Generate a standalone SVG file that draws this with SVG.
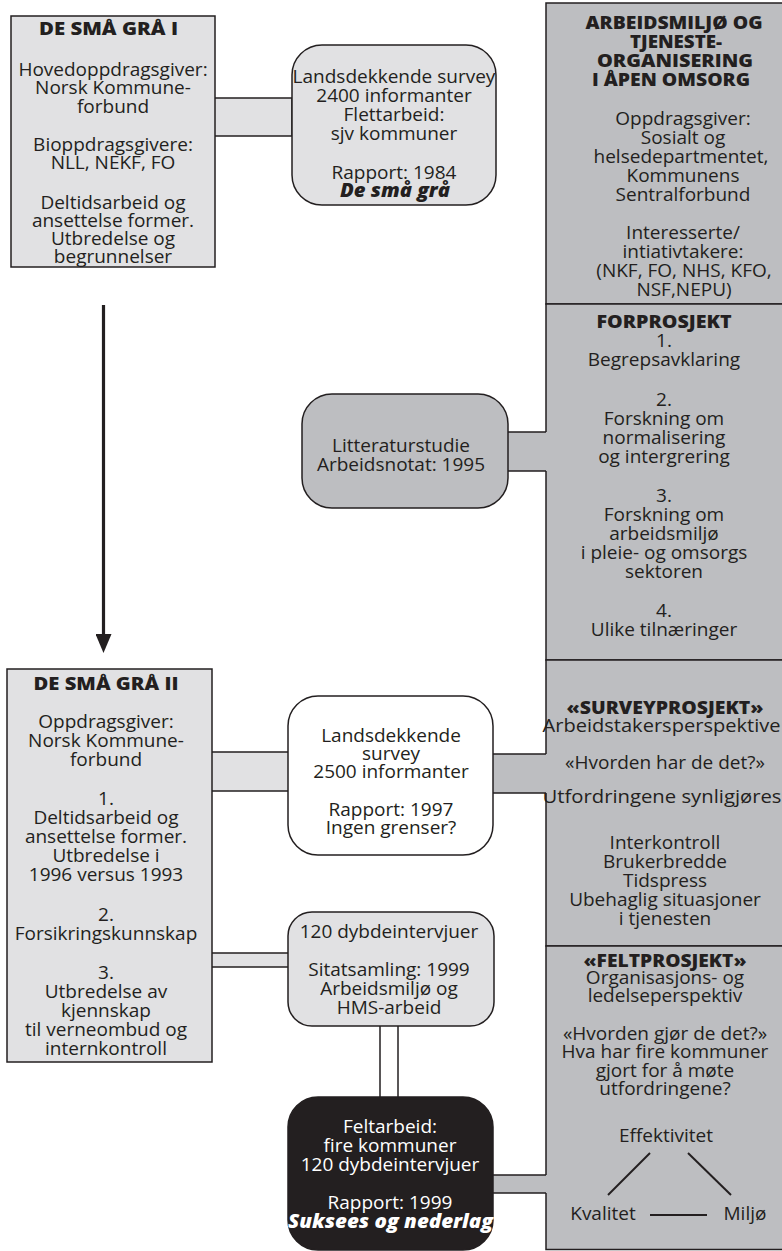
<svg xmlns="http://www.w3.org/2000/svg" width="782" height="1251" viewBox="0 0 782 1251">
  <style>
    .lt{fill:#e1e1e3;stroke:#231f20;stroke-width:1.5}
    .dk{fill:#bdbec1;stroke:#231f20;stroke-width:1.5}
    .wh{fill:#ffffff;stroke:#231f20;stroke-width:1.5}
    .bk{fill:#231f20;stroke:#231f20;stroke-width:1.5}
    .ln{fill:none;stroke:#231f20;stroke-width:1.5}
    .tri{fill:none;stroke:#231f20;stroke-width:2}
    text{font-family:"Open Sans","Liberation Sans",sans-serif;font-size:19px;fill:#231f20;text-anchor:middle}
    .h{font-weight:800;font-size:17px}
    .bi{font-weight:800;font-style:italic}
    .w{fill:#ffffff}
  </style>
  <defs>
    <!-- solid triangular head; drawn along +x so orient="auto" points it down the line -->
    <marker id="arrowhead" viewBox="0 0 19 16" refX="0" refY="8" markerWidth="19" markerHeight="16" markerUnits="userSpaceOnUse" orient="auto">
      <polygon points="0,0 19,8 0,16" fill="#231f20"/>
    </marker>
  </defs>

  <rect width="782" height="1251" fill="#ffffff"/>

  <!-- right-hand column: main project and its three sub-projects -->
  <g id="node-arbeidsmiljo">
    <rect class="dk" x="546" y="3" width="250" height="301"/>
    <text class="h" x="674" y="29" textLength="177" lengthAdjust="spacingAndGlyphs">ARBEIDSMILJØ OG</text>
    <text class="h" x="676" y="48" textLength="92" lengthAdjust="spacingAndGlyphs">TJENESTE-</text>
    <text class="h" x="675" y="67" textLength="156" lengthAdjust="spacingAndGlyphs">ORGANISERING</text>
    <text class="h" x="671" y="86" textLength="158" lengthAdjust="spacingAndGlyphs">I ÅPEN OMSORG</text>
    <text x="683" y="125">Oppdragsgiver:</text>
    <text x="683" y="144">Sosialt og</text>
    <text x="681" y="163">helsedepartmentet,</text>
    <text x="683" y="182">Kommunens</text>
    <text x="683" y="201">Sentralforbund</text>
    <text x="683" y="239">Interesserte/</text>
    <text x="683" y="258">intiativtakere:</text>
    <text x="684" y="277">(NKF, FO, NHS, KFO,</text>
    <text x="684" y="296">NSF,NEPU)</text>
  </g>

  <g id="node-forprosjekt">
    <rect class="dk" x="546" y="304" width="250" height="356"/>
    <text class="h" x="664" y="328" textLength="135" lengthAdjust="spacingAndGlyphs">FORPROSJEKT</text>
    <text x="664" y="347">1.</text>
    <text x="664" y="366">Begrepsavklaring</text>
    <text x="664" y="406">2.</text>
    <text x="664" y="425">Forskning om</text>
    <text x="664" y="444">normalisering</text>
    <text x="664" y="463">og intergrering</text>
    <text x="664" y="502">3.</text>
    <text x="664" y="521">Forskning om</text>
    <text x="664" y="540">arbeidsmiljø</text>
    <text x="664" y="559">i pleie- og omsorgs</text>
    <text x="664" y="578">sektoren</text>
    <text x="664" y="617">4.</text>
    <text x="664" y="636">Ulike tilnæringer</text>
  </g>

  <g id="node-surveyprosjekt">
    <rect class="dk" x="546" y="660" width="250" height="286"/>
    <text class="h" x="665" y="714" textLength="197" lengthAdjust="spacingAndGlyphs">«SURVEYPROSJEKT»</text>
    <text x="661.5" y="732" textLength="238" lengthAdjust="spacingAndGlyphs">Arbeidstakersperspektive</text>
    <text x="665" y="769">«Hvorden har de det?»</text>
    <text x="662" y="803" textLength="239" lengthAdjust="spacingAndGlyphs">Utfordringene synligjøres</text>
    <text x="665" y="849">Interkontroll</text>
    <text x="665" y="868">Brukerbredde</text>
    <text x="665" y="887">Tidspress</text>
    <text x="665" y="906">Ubehaglig situasjoner</text>
    <text x="665" y="925">i tjenesten</text>
  </g>

  <g id="node-feltprosjekt">
    <rect class="dk" x="546" y="946" width="250" height="303.5"/>
    <text class="h" x="665" y="967" textLength="163" lengthAdjust="spacingAndGlyphs">«FELTPROSJEKT»</text>
    <text x="665" y="984">Organisasjons- og</text>
    <text x="665" y="1002">ledelseperspektiv</text>
    <text x="665" y="1040">«Hvorden gjør de det?»</text>
    <text x="665" y="1058">Hva har fire kommuner</text>
    <text x="665" y="1077">gjort for å møte</text>
    <text x="665" y="1095">utfordringene?</text>
    <text x="666" y="1142">Effektivitet</text>
    <line class="tri" x1="650" y1="1153" x2="608" y2="1195"/>
    <line class="tri" x1="688" y1="1153" x2="731" y2="1195"/>
    <line class="tri" x1="650" y1="1215" x2="707" y2="1215"/>
    <text x="603" y="1220">Kvalitet</text>
    <text x="745" y="1220">Miljø</text>
  </g>

  <!-- connectors: flat bars between boxes, and the timeline arrow -->
  <g id="connectors">
    <rect class="lt" x="214" y="98" width="78" height="38"/>
    <rect fill="#bdbec1" x="507" y="432" width="41" height="39"/>
    <path class="ln" d="M507 432H546M507 471H546"/>
    <rect class="lt" x="211" y="752" width="78" height="39"/>
    <rect fill="#bdbec1" x="492" y="754" width="56" height="39"/>
    <path class="ln" d="M492 754H546M492 793H546"/>
    <rect class="lt" x="211" y="953" width="78" height="14"/>
    <rect class="wh" x="380" y="1025" width="18" height="73"/>
    <rect fill="#bdbec1" x="492" y="1175" width="56" height="18"/>
    <path class="ln" d="M492 1175H546M492 1193H546"/>
    <line x1="103.5" y1="305" x2="103.5" y2="634" stroke="#231f20" stroke-width="3.2" marker-end="url(#arrowhead)"/>
  </g>

  <g id="node-de-sma-gra-1">
    <rect class="lt" x="11" y="16" width="204" height="251"/>
    <text class="h" x="108.5" y="35" textLength="139" lengthAdjust="spacingAndGlyphs">DE SMÅ GRÅ I</text>
    <text x="113" y="76">Hovedoppdragsgiver:</text>
    <text x="113" y="94">Norsk Kommune-</text>
    <text x="113" y="112.5">forbund</text>
    <text x="113" y="151">Bioppdragsgivere:</text>
    <text x="113" y="169">NLL, NEKF, FO</text>
    <text x="113" y="209">Deltidsarbeid og</text>
    <text x="113" y="227">ansettelse former.</text>
    <text x="113" y="245">Utbredelse og</text>
    <text x="113" y="263">begrunnelser</text>
  </g>

  <g id="node-survey-1984">
    <rect class="lt" x="292" y="45" width="204" height="160" rx="30" ry="30"/>
    <text x="394" y="83">Landsdekkende survey</text>
    <text x="394" y="102">2400 informanter</text>
    <text x="394" y="121">Flettarbeid:</text>
    <text x="394" y="140">sjv kommuner</text>
    <text x="394" y="179">Rapport: 1984</text>
    <text class="bi" x="395" y="197" textLength="110" lengthAdjust="spacingAndGlyphs">De små grå</text>
  </g>

  <g id="node-litteraturstudie">
    <rect class="dk" x="302" y="394" width="206" height="114" rx="30" ry="30"/>
    <text x="401" y="452">Litteraturstudie</text>
    <text x="401" y="471">Arbeidsnotat: 1995</text>
  </g>

  <g id="node-de-sma-gra-2">
    <rect class="lt" x="7" y="669" width="205" height="393"/>
    <text class="h" x="106" y="690" textLength="145" lengthAdjust="spacingAndGlyphs">DE SMÅ GRÅ II</text>
    <text x="106" y="728">Oppdragsgiver:</text>
    <text x="106" y="747">Norsk Kommune-</text>
    <text x="106" y="766">forbund</text>
    <text x="106" y="805">1.</text>
    <text x="106" y="824">Deltidsarbeid og</text>
    <text x="106" y="843">ansettelse former.</text>
    <text x="106" y="862">Utbredelse i</text>
    <text x="106" y="881">1996 versus 1993</text>
    <text x="106" y="921">2.</text>
    <text x="106" y="940">Forsikringskunnskap</text>
    <text x="106" y="979">3.</text>
    <text x="106" y="998">Utbredelse av</text>
    <text x="106" y="1017">kjennskap</text>
    <text x="106" y="1036">til verneombud og</text>
    <text x="106" y="1055">internkontroll</text>
  </g>

  <g id="node-survey-1997">
    <rect class="wh" x="288" y="696" width="205" height="159" rx="30" ry="30"/>
    <text x="391" y="742">Landsdekkende</text>
    <text x="391" y="760">survey</text>
    <text x="391" y="778">2500 informanter</text>
    <text x="391" y="816">Rapport: 1997</text>
    <text x="391" y="834">Ingen grenser?</text>
  </g>

  <g id="node-dybdeintervjuer">
    <rect class="lt" x="288" y="912" width="206" height="114" rx="24" ry="24"/>
    <text x="389" y="938">120 dybdeintervjuer</text>
    <text x="389" y="976">Sitatsamling: 1999</text>
    <text x="389" y="995">Arbeidsmiljø og</text>
    <text x="389" y="1014">HMS-arbeid</text>
  </g>

  <g id="node-feltarbeid">
    <rect class="bk" x="288" y="1097" width="205" height="153" rx="30" ry="30"/>
    <text class="w" x="390" y="1133">Feltarbeid:</text>
    <text class="w" x="390" y="1152">fire kommuner</text>
    <text class="w" x="390" y="1171">120 dybdeintervjuer</text>
    <text class="w" x="390" y="1209">Rapport: 1999</text>
    <text class="w bi" x="390.5" y="1228" textLength="205" lengthAdjust="spacingAndGlyphs">Suksees og nederlag</text>
  </g>
</svg>
